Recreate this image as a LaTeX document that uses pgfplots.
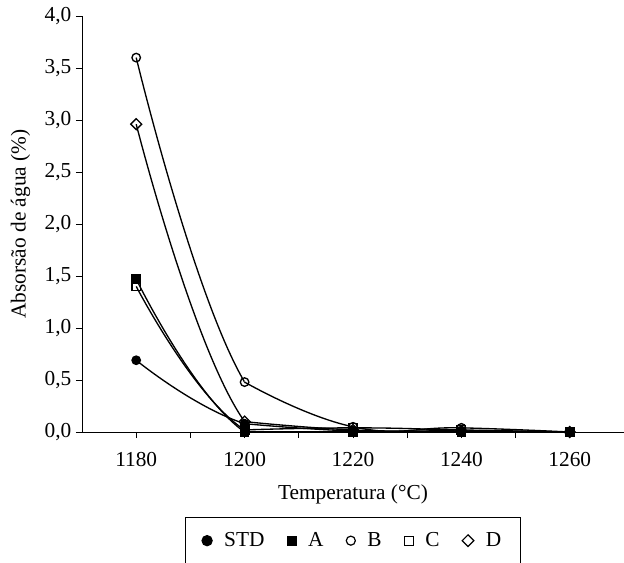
\documentclass[border=0pt]{standalone}
\usepackage{fontspec}
\setmainfont{Liberation Serif}
\usepackage{pgfplots}
\pgfplotsset{compat=1.18}
\pgfplotsset{
  segA/.style={smooth, tension=0.85, no marks, forget plot},
  segB/.style={smooth, tension=0.8, no marks, forget plot},
}
\begin{document}
\begin{tikzpicture}
\begin{axis}[
  scale only axis,
  width=406.5pt, height=312pt,
  xmin=1170, xmax=1270, ymin=0, ymax=4,
  axis x line=bottom, axis y line=left,
  axis line style={-, line width=0.6pt},
  tick align=outside,
  major tick length=4.5pt, minor tick length=4.5pt,
  tick style={line width=0.6pt, black},
  xtick={1180,1200,1220,1240,1260},
  minor x tick num=1,
  ytick={0,0.5,1,1.5,2,2.5,3,3.5,4},
  /pgf/number format/assume math mode=true,
  xticklabel style={/pgf/number format/1000 sep={}, yshift=-7pt},
  yticklabel style={/pgf/number format/.cd, fixed, fixed zerofill, precision=1, use comma},
  tick label style={font=\fontsize{16}{18}\selectfont},
  label style={font=\fontsize{16}{18}\selectfont},
  xlabel={Temperatura (°C)},
  ylabel={Absorsão de água (\%)},
  xlabel style={yshift=-7pt},
  ylabel style={yshift=4pt},
  clip mode=individual,
  legend columns=5,
  legend style={at={(0.5,-0.204)}, anchor=north, draw=black, line width=0.6pt,
    font=\fontsize{16}{18}\selectfont, inner xsep=12.5pt, inner ysep=9.5pt,
    /tikz/every odd column/.append style={column sep=7pt},
    /tikz/every even column/.append style={column sep=15pt}},
  legend cell align=left,
  every axis plot/.append style={black, line width=1pt, mark size=3.2pt, mark options={solid, line width=0.9pt}},
]
\coordinate (O) at (rel axis cs:0,0);
% --- curves, first interval (clipped to 1180..1200)
\begin{scope}
\clip (axis cs:1170,-1) rectangle (axis cs:1200,5);
\addplot[segA] coordinates {(1180,1.47) (1200,0.0) (1220,0.0)};
\addplot[segA] coordinates {(1180,1.40) (1200,0.02) (1220,0.04)};
\addplot[segA] coordinates {(1180,2.96) (1200,0.10) (1220,0.02)};
\addplot[segA] coordinates {(1180,0.69) (1200,0.08) (1220,0.01)};
\addplot[segA] coordinates {(1180,3.60) (1200,0.48) (1220,0.05)};
\end{scope}
% --- curves, 1200..1260
\addplot[segB] coordinates {(1200,0.0) (1220,0.0) (1240,0.0) (1260,0.0)};
\addplot[segB] coordinates {(1200,0.02) (1220,0.04) (1240,0.02) (1260,0.0)};
\addplot[segB] coordinates {(1200,0.10) (1220,0.02) (1240,0.01) (1260,0.0)};
\addplot[segB] coordinates {(1200,0.08) (1220,0.01) (1240,0.01) (1260,0.0)};
\addplot[segB] coordinates {(1200,0.48) (1220,0.05) (1240,0.04) (1260,0.0)};
% --- markers
\addplot[only marks, mark=square*, forget plot] coordinates {(1180,1.47) (1200,0.0) (1220,0.0) (1240,0.0) (1260,0.0)};
\addplot[only marks, mark=square, mark options={fill=white}, forget plot] coordinates {(1180,1.40) (1200,0.02) (1220,0.04) (1240,0.02) (1260,0.0)};
\addplot[only marks, mark=square, mark size=2.9pt, mark options={fill=white, rotate=45}, forget plot] coordinates {(1180,2.96) (1200,0.10) (1220,0.02) (1240,0.01) (1260,0.0)};
\addplot[only marks, mark=*, forget plot] coordinates {(1180,0.69) (1200,0.08) (1220,0.01) (1240,0.01) (1260,0.0)};
\addplot[only marks, mark=o, mark options={fill=white}, forget plot] coordinates {(1180,3.60) (1200,0.48) (1220,0.05) (1240,0.04) (1260,0.0)};
\addlegendimage{only marks, mark=*, black, mark size=3.8pt}
\addlegendentry{STD}
\addlegendimage{only marks, mark=square*, black, mark size=3.4pt}
\addlegendentry{A}
\addlegendimage{only marks, mark=o, black, mark size=3.4pt, line width=0.9pt}
\addlegendentry{B}
\addlegendimage{only marks, mark=square, black, mark size=3.4pt, line width=0.9pt}
\addlegendentry{C}
\addlegendimage{only marks, mark=square, black, mark size=3.1pt, mark options={rotate=45}, line width=0.9pt}
\addlegendentry{D}
\end{axis}
\pgfresetboundingbox
\path (O) ++(-61.5pt,-97.5pt) rectangle ++(468pt,421.5pt);
\end{tikzpicture}
\end{document}
